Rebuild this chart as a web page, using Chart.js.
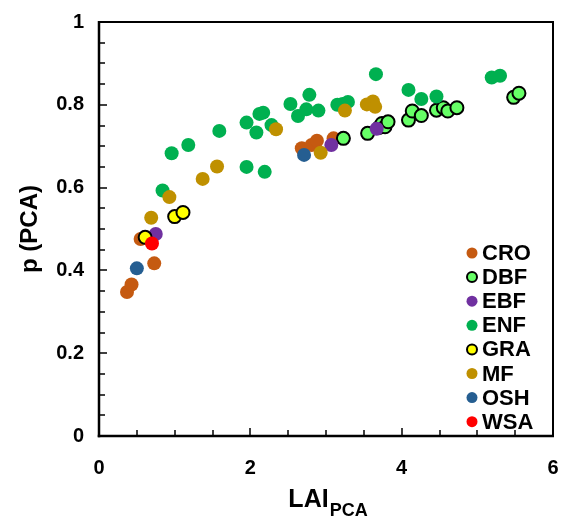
<!DOCTYPE html>
<html>
<head>
<meta charset="utf-8">
<script src="https://cdn.jsdelivr.net/npm/chart.js@4/dist/chart.umd.min.js"></script>
<style>
    body { margin: 0; background: #fff; }
    #wrap { width: 567px; height: 524px; }
</style>
</head>
<body>
<div id="wrap"><canvas id="chart" width="567" height="524"></canvas></div>
<script>
// Series data (LAI_PCA, p)
const croX = [0.37, 0.43, 0.73, 0.55, 2.68, 2.81, 2.88, 3.10];
const croY = [0.348, 0.366, 0.417, 0.476, 0.695, 0.703, 0.713, 0.719];

const dbfX = [3.23, 3.55, 3.70, 3.74, 3.78, 3.82, 4.09, 4.14, 4.26, 4.46, 4.55, 4.61, 4.73, 5.48, 5.55];
const dbfY = [0.719, 0.731, 0.745, 0.755, 0.747, 0.759, 0.763, 0.785, 0.774, 0.787, 0.793, 0.785, 0.793, 0.818, 0.828];

const ebfX = [0.75, 3.07, 3.67];
const ebfY = [0.488, 0.703, 0.742];

const enfX = [0.84, 0.96, 1.18, 1.59, 1.95, 1.95, 2.08, 2.12, 2.17, 2.19, 2.28, 2.53, 2.63, 2.74, 2.78,
              2.90, 3.15, 3.22, 3.29, 3.66, 4.09, 4.26, 4.46, 5.19, 5.30];
const enfY = [0.593, 0.683, 0.703, 0.737, 0.757, 0.650, 0.733, 0.778, 0.781, 0.638, 0.751, 0.802, 0.773, 0.789, 0.824,
              0.786, 0.800, 0.802, 0.807, 0.874, 0.836, 0.814, 0.820, 0.866, 0.870];

const graX = [0.61, 1.00, 1.11];
const graY = [0.480, 0.530, 0.540];

const mfX = [0.69, 0.93, 1.37, 1.56, 2.34, 2.93, 3.25, 3.54, 3.62, 3.65];
const mfY = [0.527, 0.577, 0.621, 0.651, 0.741, 0.684, 0.786, 0.801, 0.808, 0.795];

const oshX = [0.50, 2.71];
const oshY = [0.405, 0.679];

const wsaX = [0.70];
const wsaY = [0.465];

const xTicks = [0, 2, 4, 6];
const yTicks = [0, 0.2, 0.4, 0.6, 0.8, 1];

const series = [
    { label: 'CRO', xs: croX, ys: croY, fill: '#C55A11', edge: null },
    { label: 'DBF', xs: dbfX, ys: dbfY, fill: '#66FF66', edge: '#000000' },
    { label: 'EBF', xs: ebfX, ys: ebfY, fill: '#7030A0', edge: null },
    { label: 'ENF', xs: enfX, ys: enfY, fill: '#00B050', edge: null },
    { label: 'GRA', xs: graX, ys: graY, fill: '#FFFF00', edge: '#000000' },
    { label: 'MF',  xs: mfX,  ys: mfY,  fill: '#BF9000', edge: null },
    { label: 'OSH', xs: oshX, ys: oshY, fill: '#255E91', edge: null },
    { label: 'WSA', xs: wsaX, ys: wsaY, fill: '#FF0000', edge: null }
];

const FONT = '"Liberation Sans", Arial, sans-serif';

const datasets = series.map((s, i) => ({
    label: s.label,
    data: s.xs.map((x, j) => ({ x: x, y: s.ys[j] })),
    backgroundColor: s.fill,
    borderColor: s.edge || s.fill,
    borderWidth: s.edge ? 2 : 0,
    pointRadius: s.edge ? 6.5 : 7,
    pointHoverRadius: 7,
    order: series.length - i   // later series drawn on top, like the original
}));

function drawFrame(chart) {
    const c = chart.ctx;
    const xs = chart.scales.x;
    const ys = chart.scales.y;
    const left = Math.round(xs.getPixelForValue(0));
    const right = Math.round(xs.getPixelForValue(6));
    const top = Math.round(ys.getPixelForValue(1));
    const bottom = Math.round(ys.getPixelForValue(0));
    c.save();
    c.fillStyle = '#000000';

    // tick marks pointing into the plot (drawn as thin boxes)
    for (let k = 0; k <= 20; k++) {
        const py = Math.round(ys.getPixelForValue(k * 0.05));
        c.fillRect(left, py - 0.75, k % 4 === 0 ? 8 : 6, 1.5);
    }
    for (let k = 0; k <= 12; k++) {
        const px = Math.round(xs.getPixelForValue(k * 0.5));
        const len = k % 4 === 0 ? 8 : 6;
        c.fillRect(px - 0.75, bottom - len, 1.5, len);
    }

    // plot frame
    c.fillRect(left - 1, top - 1, right - left + 2, 2);
    c.fillRect(right - 1, top - 1, 2, bottom - top + 2);
    c.fillRect(left - 1.25, top - 1, 2.5, bottom - top + 2.25);
    c.fillRect(left - 1.25, bottom - 1.25, right - left + 2.25, 2.5);
    c.restore();
}

function drawTitlesAndLegend(chart) {
    const c = chart.ctx;
    const area = chart.chartArea;
    c.save();
    c.fillStyle = '#000';

    // x title with subscript
    c.textBaseline = 'alphabetic';
    c.textAlign = 'left';
    c.font = 'bold 25px ' + FONT;
    const mainW = c.measureText('LAI').width;
    c.font = 'bold 18px ' + FONT;
    const subW = c.measureText('PCA').width;
    const cx = (area.left + area.right) / 2 + 2;
    const startX = cx - (mainW + subW + 1) / 2;
    c.font = 'bold 25px ' + FONT;
    c.fillText('LAI', startX, 507);
    c.font = 'bold 18px ' + FONT;
    c.fillText('PCA', startX + mainW + 1, 516);

    // y title
    c.translate(30, (area.top + area.bottom) / 2);
    c.rotate(-Math.PI / 2);
    c.textAlign = 'center';
    c.textBaseline = 'middle';
    c.font = 'bold 24px ' + FONT;
    c.fillText('p (PCA)', 0, 0);
    c.restore();

    // legend inside plot area
    c.save();
    c.font = 'bold 22px ' + FONT;
    c.textAlign = 'left';
    c.textBaseline = 'middle';
    chart.data.datasets.forEach((ds, i) => {
        const ly = 253 + i * 24.1;
        c.beginPath();
        c.arc(472, ly, ds.borderWidth ? 5 : 5.5, 0, Math.PI * 2);
        c.fillStyle = ds.backgroundColor;
        c.fill();
        if (ds.borderWidth) {
            c.lineWidth = 2;
            c.strokeStyle = ds.borderColor;
            c.stroke();
        }
        c.fillStyle = '#000';
        c.fillText(ds.label, 482, ly + 1);
    });
    c.restore();
}

const decorations = {
    id: 'decorations',
    beforeDatasetsDraw(chart) {
        drawFrame(chart);
    },
    afterDraw(chart) {
        drawTitlesAndLegend(chart);
    }
};

const chart = new Chart(document.getElementById('chart'), {
    type: 'scatter',
    data: { datasets: datasets },
    options: {
        responsive: false,
        animation: false,
        devicePixelRatio: 1,
        layout: { padding: { top: 22, right: 14, left: 0, bottom: 0 } },
        plugins: {
            legend: { display: false },
            tooltip: { enabled: false }
        },
        scales: {
            x: {
                type: 'linear',
                min: 0,
                max: 6,
                afterBuildTicks: scale => { scale.ticks = xTicks.map(v => ({ value: v })); },
                afterFit: scale => {
                    scale.height = 88;
                    scale.paddingLeft = 0;
                    scale.paddingRight = 0;
                },
                grid: { display: false },
                border: { display: false },
                ticks: {
                    color: '#000',
                    padding: 12,
                    font: { family: FONT, size: 20, weight: 'bold' },
                    maxRotation: 0,
                    callback: v => String(v)
                }
            },
            y: {
                type: 'linear',
                min: 0,
                max: 1,
                afterBuildTicks: scale => { scale.ticks = yTicks.map(v => ({ value: v })); },
                afterFit: scale => {
                    scale.width = 99;
                    scale.paddingTop = 0;
                    scale.paddingBottom = 0;
                },
                grid: { display: false },
                border: { display: false },
                ticks: {
                    color: '#000',
                    padding: 7,
                    font: { family: FONT, size: 20, weight: 'bold' },
                    callback: v => String(Math.round(v * 10) / 10)
                }
            }
        }
    },
    plugins: [decorations]
});
</script>
</body>
</html>
